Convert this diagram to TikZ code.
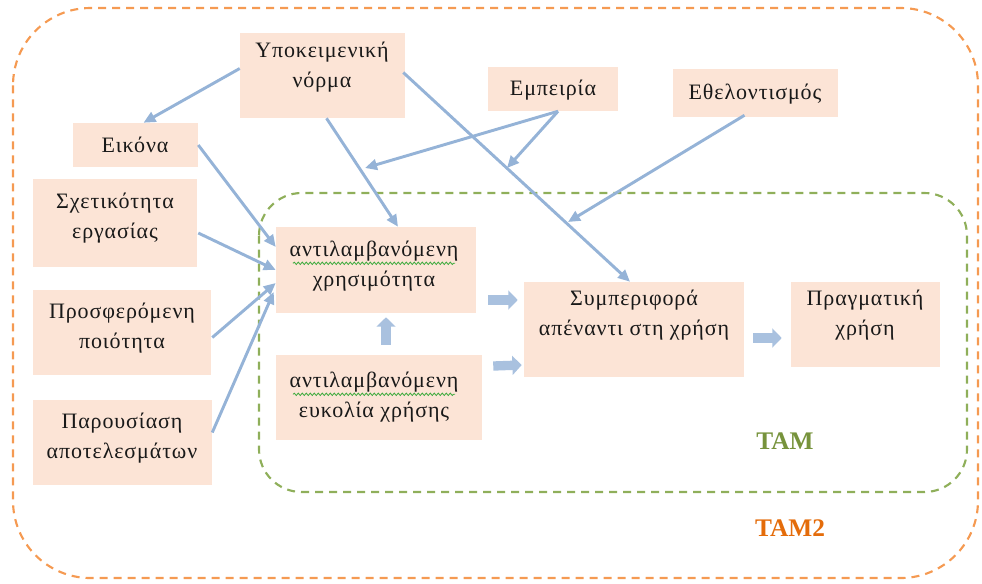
\documentclass[tikz,border=0pt]{standalone}
\usepackage{fontspec}
\setmainfont{Liberation Serif}
\newfontfamily\boxfont[LetterSpace=4]{Liberation Serif}
\usetikzlibrary{arrows.meta,fit,calc,decorations.pathmorphing}
\definecolor{boxfill}{HTML}{FCE4D6}
\definecolor{linkblue}{HTML}{95B3D7}
\definecolor{blockblue}{HTML}{A9C1DF}
\definecolor{tamgreen}{HTML}{77933C}
\definecolor{tamorange}{HTML}{E46C0A}
\definecolor{framegreen}{HTML}{8FAF5A}
\definecolor{frameorange}{HTML}{F59A52}
\definecolor{squiggle}{HTML}{3DAA3D}
\begin{document}
\begin{tikzpicture}[x=0.75pt,y=-0.75pt,
  box/.style={fill=boxfill,draw=none,inner sep=0pt},
  lbl/.style={align=center,inner sep=0pt,text=black!90,
    font=\boxfont\fontsize{16.5}{23}\selectfont},
  link/.style={draw=linkblue,line width=2.2pt,
    -{Triangle[length=9pt,width=8pt]}},
  block/.style={draw=blockblue,line width=7pt,
    -{Triangle[length=7pt,width=14pt]}},
  frame/.style={dashed,line width=1.6pt,dash pattern=on 6pt off 4.5pt},
  spell/.style={draw=squiggle,line width=0.6pt,
    decorate,decoration={snake,amplitude=0.9pt,segment length=3pt}},
  tamlbl/.style={font=\fontsize{19}{22}\selectfont\bfseries}]
\useasboundingbox (0,0) rectangle (982,583);

% outer and inner model frames
\draw[frame,draw=frameorange,rounded corners=58pt] (13,8) rectangle (978,578);
\draw[frame,draw=framegreen,rounded corners=32pt] (259,193) rectangle (967,492);
\node[tamlbl,text=tamgreen] (tam) at (785,441) {TAM};
\node[tamlbl,text=tamorange] (tamtwo) at (790,528) {TAM2};

% factor boxes
\node[box,fit={(240,33) (405,118)}] (norm) {};
\node[box,fit={(73,123) (198,167)}] (eikona) {};
\node[box,fit={(33,179) (197,267)}] (sxet) {};
\node[box,fit={(33,290) (211,375)}] (prosf) {};
\node[box,fit={(33,400) (212,485)}] (parous) {};
\node[box,fit={(488,67) (618,111)}] (empeiria) {};
\node[box,fit={(673,69) (838,117)}] (ethel) {};
\node[box,fit={(276,227) (476,313)}] (xrisi) {};
\node[box,fit={(276,355) (482,440)}] (efk) {};
\node[box,fit={(524,282) (744,377)}] (symp) {};
\node[box,fit={(791,282) (940,367)}] (prag) {};

% box texts
\node[lbl] (normT) at (322,67) {Υποκειμενική\\νόρμα};
\node[lbl] (eikonaT) at (135,145) {Εικόνα};
\node[lbl] (sxetT) at (115,218) {Σχετικότητα\\εργασίας};
\node[lbl] (prosfT) at (122,328) {Προσφερόμενη\\ποιότητα};
\node[lbl] (parousT) at (122,438) {Παρουσίαση\\αποτελεσμάτων};
\node[lbl] (empeiriaT) at (553,90) {Εμπειρία};
\node[lbl] (ethelT) at (755,94) {Εθελοντισμός};
\node[lbl] (xrisiT) at (374,266) {αντιλαμβανόμενη\\χρησιμότητα};
\node[lbl] (efkT) at (374,397) {αντιλαμβανόμενη\\ευκολία χρήσης};
\node[lbl] (sympT) at (634,315) {Συμπεριφορά\\απέναντι στη χρήση};
\node[lbl] (pragT) at (865,315) {Πραγματική\\χρήση};

% spelling marks under the first word
\draw[spell] ($(xrisiT.north)+(-81,23)$) -- ($(xrisiT.north)+(81,23)$);
\draw[spell] ($(efkT.north)+(-81,23)$) -- ($(efkT.north)+(81,23)$);

% free arrow ends
\coordinate (empA) at (365,168);
\coordinate (empB) at (507,168);
\coordinate (ethA) at (568,222);

% influence arrows
\draw[link] ($(norm.west)+(0,-7)$) -- ($(eikona.north)+(8,0)$);
\draw[link] ($(norm.south)+(4,0)$) -- ($(xrisi.north)+(22,0)$);
\draw[link] ($(norm.east)+(-2,-3)$) -- ($(symp.north)+(-4,0)$);
\draw[link] ($(empeiria.south)+(5,0)$) -- (empA);
\draw[link] ($(empeiria.south)+(5,0)$) -- (empB);
\draw[link] ($(ethel.south)+(-11,-2)$) -- (ethA);
\draw[link] (eikona.east) -- ($(xrisi.west)+(0,-23)$);
\draw[link] ($(sxet.east)+(1,10)$) -- (xrisi.west);
\draw[link] ($(prosf.east)+(1,5)$) -- ($(xrisi.west)+(0,13)$);
\draw[link] ($(parous.east)+(0,-10)$) -- ($(xrisi.west)+(-2,22)$);

% TAM block arrows
\draw[block] ($(xrisi.east)+(12,30)$) -- ($(symp.west)+(-6,-29.5)$);
\draw[block] ($(efk.east)+(11,-31.5)$) -- ($(symp.west)+(-2,35.5)$);
\draw[block] ($(efk.north)+(7,-10)$) -- ($(xrisi.south)+(10,4)$);
\draw[block] ($(symp.east)+(9,8.5)$) -- ($(prag.west)+(-9,13.5)$);
\end{tikzpicture}
\end{document}
